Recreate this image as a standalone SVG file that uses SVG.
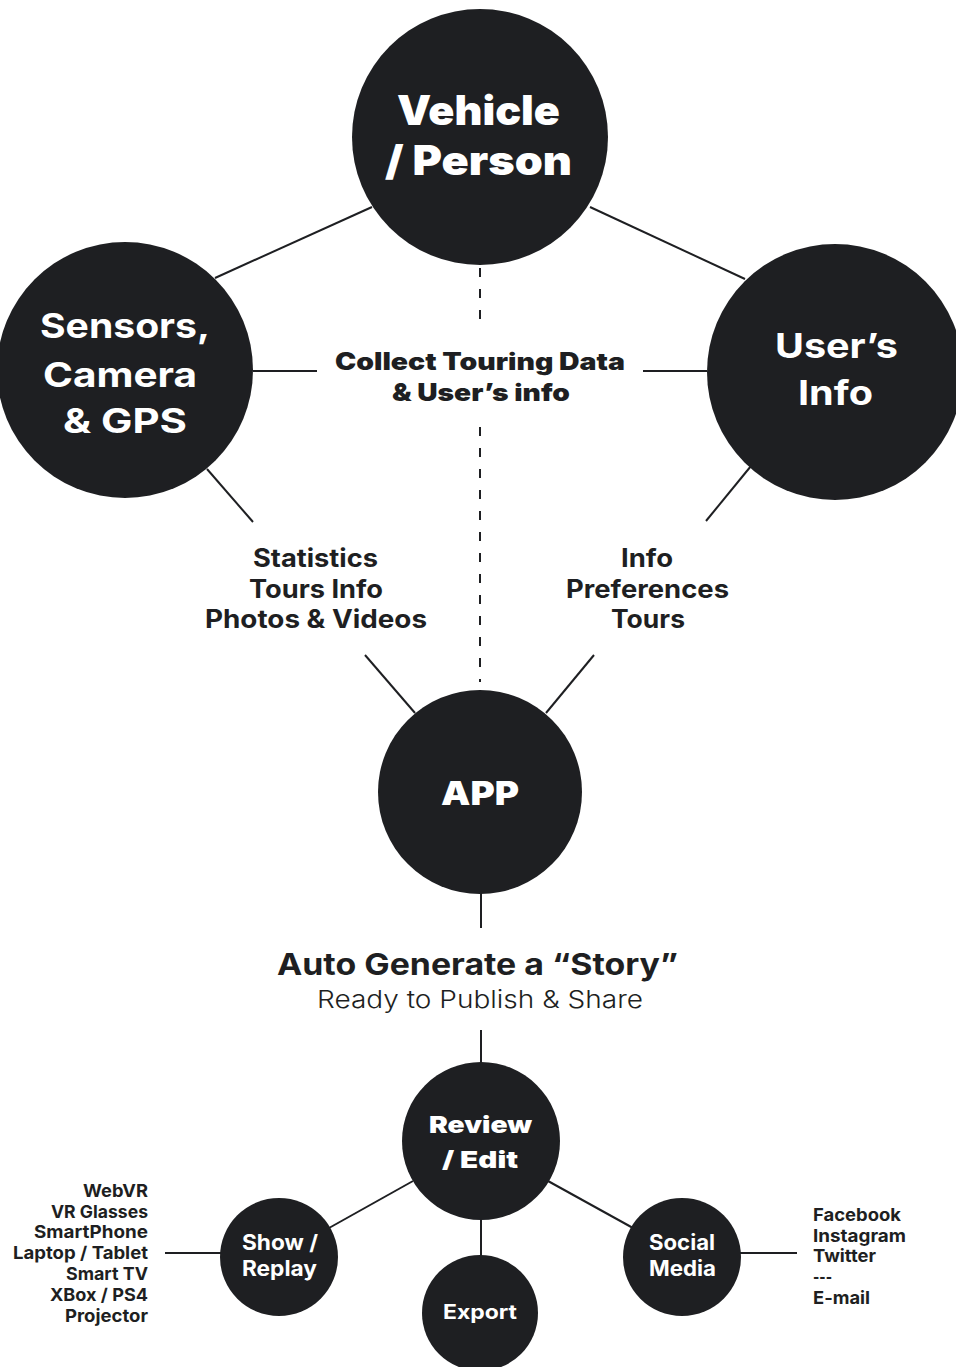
<svg xmlns="http://www.w3.org/2000/svg" width="956" height="1367" viewBox="0 0 956 1367">
<style>
.n{fill:#1e1f22}
.c{stroke:#1e1f22;stroke-width:2;fill:none}
.d{stroke:#1e1f22;stroke-width:2;fill:none;stroke-dasharray:9 12}
text{font-family:Inter,"Open Sans","Liberation Sans",sans-serif;font-feature-settings:"calt" 0,"liga" 0;font-variant-ligatures:none}
.w{fill:#fff;text-anchor:middle}
.k{fill:#1e1f22;text-anchor:middle}
.b9{font-weight:900}
.b7{font-weight:700}
.l3{font-weight:300}
</style>
<rect width="956" height="1367" fill="#fff"/>
<g id="connectors">
<line class="c" x1="215" y1="278" x2="372" y2="207"/>
<line class="c" x1="590" y1="207" x2="745" y2="279"/>
<line class="c" x1="253" y1="371" x2="317" y2="371"/>
<line class="c" x1="643" y1="371" x2="707" y2="371"/>
<line class="d" x1="480" y1="268" x2="480" y2="325"/>
<line class="d" x1="480" y1="427" x2="480" y2="682"/>
<line class="c" x1="207" y1="469" x2="253" y2="522"/>
<line class="c" x1="751" y1="466" x2="706" y2="521"/>
<line class="c" x1="365" y1="655" x2="415" y2="713"/>
<line class="c" x1="594" y1="655" x2="546" y2="713"/>
<line class="c" x1="481" y1="893" x2="481" y2="928"/>
<line class="c" x1="481" y1="1030" x2="481" y2="1064"/>
<line class="c" x1="413" y1="1181" x2="329" y2="1228"/>
<line class="c" x1="548" y1="1181" x2="633" y2="1228"/>
<line class="c" x1="481" y1="1219" x2="481" y2="1256"/>
<line class="c" x1="165" y1="1253" x2="221" y2="1253"/>
<line class="c" x1="740" y1="1253" x2="797" y2="1253"/>
</g>
<g id="vehicle">
<circle class="n" cx="480" cy="137" r="128"/>
<text class="w b9" x="478.5" y="125" font-size="41" textLength="163" lengthAdjust="spacingAndGlyphs">Vehicle</text>
<text class="w b9" x="478.5" y="175" font-size="41" textLength="187" lengthAdjust="spacingAndGlyphs">/ Person</text>
</g>
<g id="sensors">
<circle class="n" cx="125" cy="370" r="128"/>
<text class="w b7" x="125" y="338" font-size="34" textLength="170" lengthAdjust="spacingAndGlyphs">Sensors,</text>
<text class="w b7" x="120" y="387" font-size="34" textLength="154" lengthAdjust="spacingAndGlyphs">Camera</text>
<text class="w b7" x="125" y="433" font-size="34" textLength="124" lengthAdjust="spacingAndGlyphs">&amp; GPS</text>
</g>
<g id="users-info">
<circle class="n" cx="835" cy="372" r="128"/>
<text class="w b7" x="836.5" y="358" font-size="34" textLength="123" lengthAdjust="spacingAndGlyphs">User’s</text>
<text class="w b7" x="835.5" y="405" font-size="34" textLength="75" lengthAdjust="spacingAndGlyphs">Info</text>
</g>
<g id="collect-label">
<text class="k b9" x="480" y="370" font-size="24" textLength="290" lengthAdjust="spacingAndGlyphs">Collect Touring Data</text>
<text class="k b9" x="481" y="401" font-size="24" textLength="178" lengthAdjust="spacingAndGlyphs">&amp; User’s info</text>
</g>
<g id="stats-label">
<text class="k b7" x="315.5" y="567" font-size="25" textLength="125" lengthAdjust="spacingAndGlyphs">Statistics</text>
<text class="k b7" x="316" y="598" font-size="25" textLength="134" lengthAdjust="spacingAndGlyphs">Tours Info</text>
<text class="k b7" x="316" y="628" font-size="25" textLength="222" lengthAdjust="spacingAndGlyphs">Photos &amp; Videos</text>
</g>
<g id="info-label">
<text class="k b7" x="647" y="567" font-size="25" textLength="52" lengthAdjust="spacingAndGlyphs">Info</text>
<text class="k b7" x="647.5" y="598" font-size="25" textLength="163" lengthAdjust="spacingAndGlyphs">Preferences</text>
<text class="k b7" x="648" y="628" font-size="25" textLength="74" lengthAdjust="spacingAndGlyphs">Tours</text>
</g>
<g id="app">
<circle class="n" cx="480" cy="792" r="102"/>
<text class="w b9" x="480" y="805" font-size="33" textLength="78" lengthAdjust="spacingAndGlyphs">APP</text>
</g>
<g id="story-label">
<text class="k b7" x="477.5" y="975" font-size="30" textLength="401" lengthAdjust="spacingAndGlyphs">Auto Generate a “Story”</text>
<text class="k l3" x="480" y="1008" font-size="24" textLength="326" lengthAdjust="spacingAndGlyphs">Ready to Publish &amp; Share</text>
</g>
<g id="review">
<circle class="n" cx="481" cy="1141" r="79"/>
<text class="w b9" x="480.5" y="1133" font-size="23" textLength="103" lengthAdjust="spacingAndGlyphs">Review</text>
<text class="w b9" x="480" y="1168" font-size="23" textLength="76" lengthAdjust="spacingAndGlyphs">/ Edit</text>
</g>
<g id="export">
<circle class="n" cx="480" cy="1313" r="58"/>
<text class="w b7" x="480" y="1319" font-size="20" textLength="74" lengthAdjust="spacingAndGlyphs">Export</text>
</g>
<g id="show-replay">
<circle class="n" cx="279" cy="1257" r="59"/>
<text class="w b7" x="280" y="1250" font-size="21" textLength="76" lengthAdjust="spacingAndGlyphs">Show /</text>
<text class="w b7" x="279.5" y="1276" font-size="21" textLength="75" lengthAdjust="spacingAndGlyphs">Replay</text>
</g>
<g id="social-media">
<circle class="n" cx="682" cy="1257" r="59"/>
<text class="w b7" x="682" y="1250" font-size="21" textLength="66" lengthAdjust="spacingAndGlyphs">Social</text>
<text class="w b7" x="682.5" y="1276" font-size="21" textLength="67" lengthAdjust="spacingAndGlyphs">Media</text>
</g>
<g id="devices-label" fill="#1e1f22" font-size="17.5" font-weight="700" text-anchor="end">
<text x="148" y="1197" textLength="65" lengthAdjust="spacingAndGlyphs">WebVR</text>
<text x="148" y="1218" textLength="97" lengthAdjust="spacingAndGlyphs">VR Glasses</text>
<text x="148" y="1238" textLength="114" lengthAdjust="spacingAndGlyphs">SmartPhone</text>
<text x="148" y="1259" textLength="135" lengthAdjust="spacingAndGlyphs">Laptop / Tablet</text>
<text x="148" y="1280" textLength="82" lengthAdjust="spacingAndGlyphs">Smart TV</text>
<text x="148" y="1301" textLength="98" lengthAdjust="spacingAndGlyphs">XBox / PS4</text>
<text x="148" y="1322" textLength="83" lengthAdjust="spacingAndGlyphs">Projector</text>
</g>
<g id="social-label" fill="#1e1f22" font-size="17.5" font-weight="700">
<text x="813" y="1221" textLength="88" lengthAdjust="spacingAndGlyphs">Facebook</text>
<text x="813" y="1242" textLength="93" lengthAdjust="spacingAndGlyphs">Instagram</text>
<text x="813" y="1262" textLength="63" lengthAdjust="spacingAndGlyphs">Twitter</text>
<text x="813" y="1283" textLength="19" lengthAdjust="spacingAndGlyphs">---</text>
<text x="813" y="1304" textLength="57" lengthAdjust="spacingAndGlyphs">E-mail</text>
</g>
</svg>
